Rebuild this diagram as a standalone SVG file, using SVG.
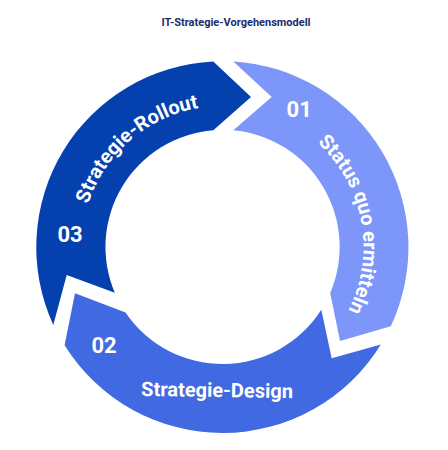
<svg xmlns="http://www.w3.org/2000/svg" width="448" height="450" viewBox="0 0 448 450">
  <defs>
    <style>
      .title { font-family: Roboto, "Liberation Sans", sans-serif; font-weight: 700; font-size: 11px; fill: #1B2C6B; }
      .num { font-family: Roboto, "Liberation Sans", sans-serif; font-weight: 700; font-size: 22px; fill: #FFFFFF; text-anchor: middle; }
      .lbl { font-family: Roboto, "Liberation Sans", sans-serif; font-weight: 700; font-size: 20px; fill: #FFFFFF; text-anchor: middle; }
      .seg1 { fill: #7C96F9; }
      .seg2 { fill: #4169E1; }
      .seg3 { fill: #0440AE; }
    </style>
    <path id="arcRollout" d="M 81.5 247 A 141 141 0 0 1 363.5 247" fill="none"/>
    <path id="arcStatus" d="M 222.5 106 A 141 141 0 0 1 222.5 388" fill="none"/>
  </defs>

  <rect width="448" height="450" fill="#FFFFFF"/>

  <text class="title" x="236" y="26" text-anchor="middle">IT-Strategie-Vorgehensmodell</text>

  <g id="connectors"></g>

  <g id="node-01">
    <path class="seg1" d="M 233.3 61.5 A 186 186 0 0 1 390.8 326.2 L 340 341 L 330.2 292.9 A 117 117 0 0 0 233.3 130.3 L 271.7 97 Z"/>
    <text class="num" x="299.2" y="117.3">01</text>
    <text class="lbl"><textPath href="#arcStatus" startOffset="44.2%">Status quo ermitteln</textPath></text>
  </g>

  <g id="node-02">
    <path class="seg2" d="M 380.9 344.5 A 186 186 0 0 1 64.6 345.2 L 75 293.3 L 125.5 312.4 A 117 117 0 0 0 321.3 309.7 L 331.7 358.3 Z"/>
    <text class="num" x="104" y="352.7">02</text>
    <text class="lbl" x="217" y="397" transform="rotate(0.8 217 397)">Strategie-Design</text>
  </g>

  <g id="node-03">
    <path class="seg3" d="M 53.3 325 A 186 186 0 0 1 213.3 61.5 L 251 97 L 213.3 130.3 A 117 117 0 0 0 114.8 292.7 L 66.7 275 Z"/>
    <text class="num" x="70" y="241.7">03</text>
    <text class="lbl"><textPath href="#arcRollout" startOffset="27.2%">Strategie-Rollout</textPath></text>
  </g>
</svg>
